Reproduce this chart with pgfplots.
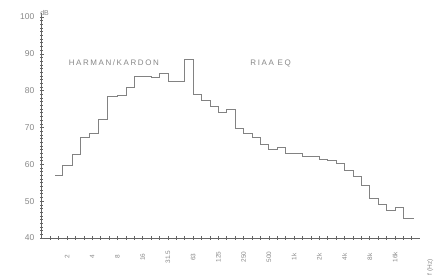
\documentclass[border=0pt]{standalone}
\usepackage{pgfplots}
\pgfplotsset{compat=1.18}
\usepackage{fontspec}
\setmainfont{Liberation Sans}
\newfontfamily\plotfont[LetterSpace=20]{Liberation Sans}
\definecolor{axgray}{RGB}{100,100,100}
\definecolor{curvegray}{RGB}{130,130,130}
\definecolor{txtgray}{RGB}{135,135,135}
\begin{document}
\begin{tikzpicture}
\useasboundingbox (0,0) rectangle (443bp,277bp);
\begin{axis}[
  at={(41.77bp,39bp)}, anchor=south west,
  scale only axis, width=378.4bp, height=224.7bp,
  xmin=-3, xmax=42, ymin=40, ymax=101,
  axis x line=bottom, axis y line=left,
  axis line style={-, axgray, line width=0.8pt},
  every tick/.style={axgray, line width=0.6pt},
  tick align=center,
  major tick length=4bp, minor tick length=3bp,
  xtick={0,3,...,39},
  xticklabels={2,4,8,16,31.5,63,125,250,500,1k,2k,4k,8k,16k},
  minor xtick={-2,-1,...,41},
  ytick={40,50,...,100},
  minor ytick={41,42,...,100},
  xticklabel style={rotate=90, anchor=center, font=\fontsize{6.5}{7}\selectfont, text=txtgray},
  xticklabel shift=17bp,
  yticklabel style={font=\fontsize{8.5}{9}\selectfont, text=txtgray},
  yticklabel shift=2bp,
  /pgf/number format/assume math mode=true,
  clip=false,
]
\addplot[const plot, curvegray, line width=0.7pt] coordinates {
 (-1.4,57.1) (-0.5,59.6) (0.6,62.8) (1.6,67.4) (2.6,68.3) (3.7,72.1) (4.8,78.4) (6,78.6)
 (7,80.8) (8,83.8) (9,83.8) (10,83.5) (11,84.8) (12,82.5) (13,82.5) (14,88.4)
 (15,78.9) (16,77.5) (17,75.7) (18,74.0) (19,75.0) (20,69.9) (21,68.5) (22,67.2)
 (23,65.3) (24,64.0) (25,64.5) (26,63.1) (27,63.0) (28,62.3) (29,62.3) (30,61.4)
 (31,61.2) (32,60.3) (33,58.5) (34,56.7) (35,54.4) (36,50.8) (37,49.0) (38,47.6)
 (39,48.3) (40,45.4) (41.3,45.4)
};
\node[anchor=base west, font=\plotfont\fontsize{8}{9}\selectfont, text=txtgray] at (axis cs:-0.2,86.9) {HARMAN/KARDON};
\node[anchor=base west, font=\plotfont\fontsize{8}{9}\selectfont, text=txtgray] at (axis cs:21.4,86.9) {RIAA EQ};
\node[anchor=south west, font=\fontsize{7}{8}\selectfont, text=txtgray, inner sep=0pt] at (axis cs:-3.2,100.4) {dB};
\node[rotate=90, anchor=center, font=\fontsize{6.5}{7}\selectfont, text=txtgray] at (axis cs:43.2,32) {f (Hz)};
\end{axis}
\end{tikzpicture}
\end{document}
